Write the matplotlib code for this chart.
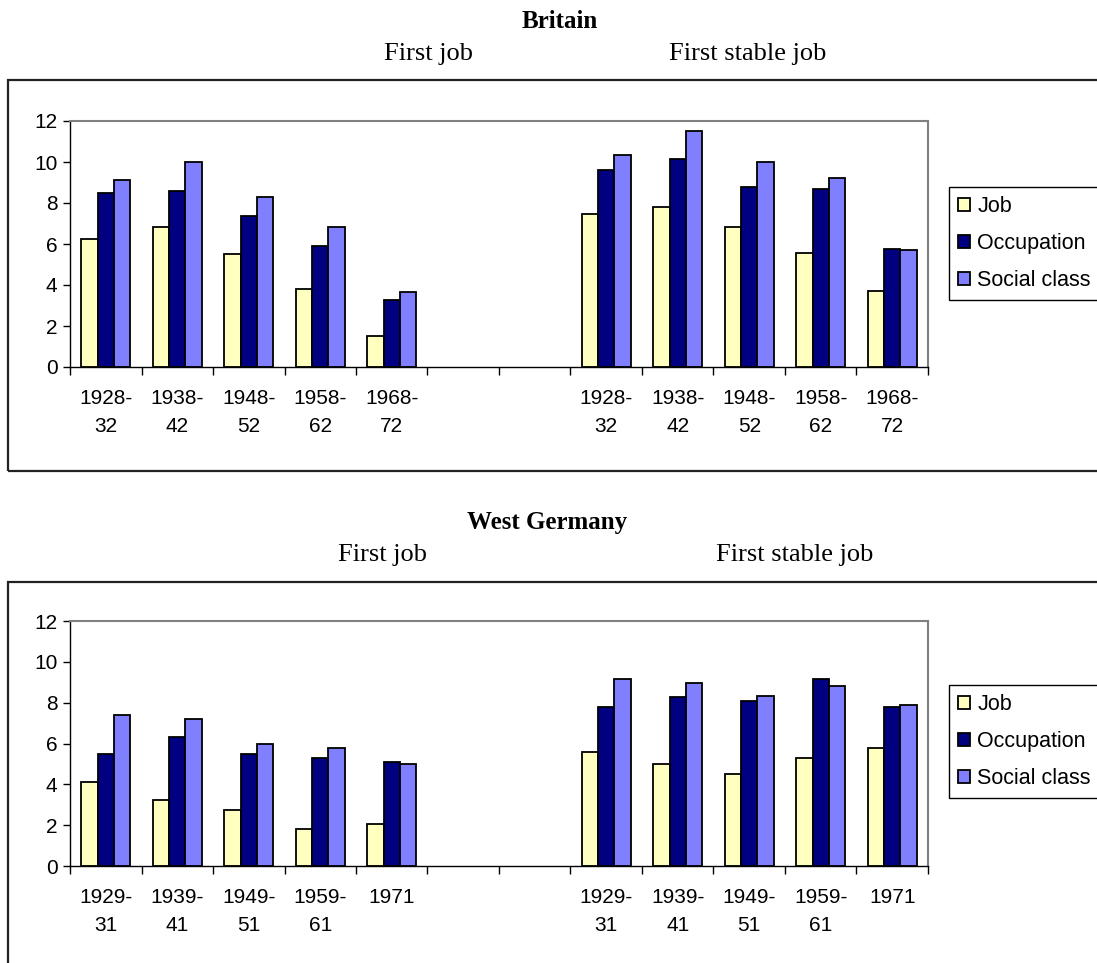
import numpy as np
import matplotlib.pyplot as plt
from matplotlib.patches import Rectangle

W, H = 1097, 963

series_names = ["Job", "Occupation", "Social class"]
series_colors = ["#FFFFC0", "#000080", "#8080FF"]

# Britain
gb_cohorts = ["1928-\n32", "1938-\n42", "1948-\n52", "1958-\n62", "1968-\n72"]
gb_first_job = [6.25, 6.85, 5.5, 3.8, 1.5]
gb_first_occ = [8.5, 8.6, 7.35, 5.9, 3.25]
gb_first_class = [9.1, 10.0, 8.3, 6.85, 3.65]
gb_stable_job = [7.45, 7.8, 6.85, 5.55, 3.7]
gb_stable_occ = [9.6, 10.15, 8.8, 8.7, 5.75]
gb_stable_class = [10.35, 11.5, 10.0, 9.2, 5.7]

# West Germany
de_cohorts = ["1929-\n31", "1939-\n41", "1949-\n51", "1959-\n61", "1971"]
de_first_job = [4.1, 3.25, 2.75, 1.8, 2.05]
de_first_occ = [5.5, 6.3, 5.5, 5.3, 5.1]
de_first_class = [7.4, 7.2, 6.0, 5.8, 5.0]
de_stable_job = [5.6, 5.0, 4.5, 5.3, 5.8]
de_stable_occ = [7.8, 8.3, 8.1, 9.15, 7.8]
de_stable_class = [9.15, 8.95, 8.35, 8.8, 7.9]

plt.rcParams["font.family"] = ["Liberation Sans", "DejaVu Sans"]
SERIF = ["Liberation Serif", "DejaVu Serif"]


def px(x, y):
    # pixel position (from top-left) -> figure fraction
    return x / W, 1 - y / H


def draw_panel(ax, cohorts, first, stable, legend_top):
    labels = cohorts + ["", ""] + cohorts
    n = len(labels)
    x = np.arange(n)
    bw = 0.227
    for k, name in enumerate(series_names):
        vals = np.array(first[k] + [np.nan, np.nan] + stable[k], dtype=float)
        keep = ~np.isnan(vals)
        ax.bar(
            x[keep] + (k - 1) * bw,
            vals[keep],
            bw,
            color=series_colors[k],
            edgecolor="black",
            linewidth=1.3,
            label=name,
        )

    ax.set_xlim(-0.5, n - 0.5)
    ax.set_ylim(0, 12)
    ax.set_yticks(range(0, 13, 2))
    ax.tick_params(axis="y", length=5, width=1, labelsize=15, pad=4)

    ax.set_xticks(x)
    ax.set_xticklabels(labels)
    ax.tick_params(axis="x", which="major", length=0, labelsize=15, pad=16)
    for lbl in ax.get_xticklabels():
        lbl.set_linespacing(1.6)
        lbl.set_verticalalignment("top")
    ax.set_xticks(np.arange(n + 1) - 0.5, minor=True)
    ax.tick_params(axis="x", which="minor", length=6, width=1)

    for side in ("top", "right"):
        ax.spines[side].set_color("#808080")
        ax.spines[side].set_linewidth(1.5)
    for side in ("left", "bottom"):
        ax.spines[side].set_color("black")
        ax.spines[side].set_linewidth(1)

    ax.legend(
        loc="upper left",
        bbox_to_anchor=px(949, legend_top),
        bbox_transform=ax.figure.transFigure,
        borderaxespad=0,
        fontsize=15.5,
        frameon=True,
        fancybox=False,
        edgecolor="black",
        framealpha=1,
        handlelength=0.55,
        handleheight=0.55,
        handletextpad=0.35,
        labelspacing=0.75,
        borderpad=0.42,
    ).get_frame().set_linewidth(1)


fig = plt.figure(figsize=(W / 100, H / 100), dpi=100)

# outer chart frames (right/bottom edges run off the image as in the source)
fig.add_artist(Rectangle(px(8, 471), 1.2, (471 - 80) / H, transform=fig.transFigure,
                         fill=False, edgecolor="#222222", linewidth=1.6))
fig.add_artist(Rectangle(px(8, 1100), 1.2, (1100 - 582) / H, transform=fig.transFigure,
                         fill=False, edgecolor="#222222", linewidth=1.6))

ax_gb = fig.add_axes([70 / W, 1 - 367 / H, (928 - 70) / W, (367 - 121) / H])
draw_panel(ax_gb,
           gb_cohorts,
           [gb_first_job, gb_first_occ, gb_first_class],
           [gb_stable_job, gb_stable_occ, gb_stable_class],
           187)

ax_de = fig.add_axes([70 / W, 1 - 866 / H, (928 - 70) / W, (866 - 621) / H])
draw_panel(ax_de,
           de_cohorts,
           [de_first_job, de_first_occ, de_first_class],
           [de_stable_job, de_stable_occ, de_stable_class],
           685)

# titles
fig.text(*px(560, 22), "Britain", family=SERIF, fontsize=18, fontweight="bold",
         ha="center", va="center")
fig.text(*px(428, 54), "First job", family=SERIF, fontsize=19, ha="center", va="center")
fig.text(*px(748, 54), "First stable job", family=SERIF, fontsize=19, ha="center", va="center")

fig.text(*px(547, 523), "West Germany", family=SERIF, fontsize=18, fontweight="bold",
         ha="center", va="center")
fig.text(*px(382, 555), "First job", family=SERIF, fontsize=19, ha="center", va="center")
fig.text(*px(795, 555), "First stable job", family=SERIF, fontsize=19, ha="center", va="center")

fig.savefig("out.png", dpi=100)
